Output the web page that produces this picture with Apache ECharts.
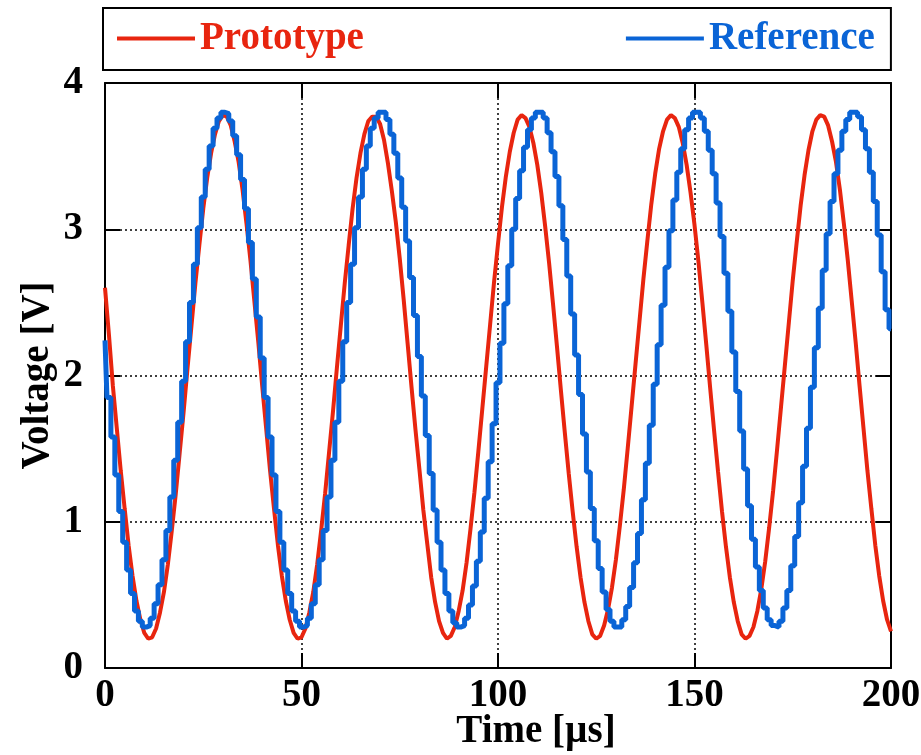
<!DOCTYPE html>
<html>
<head>
<meta charset="utf-8">
<script src="https://cdn.jsdelivr.net/npm/echarts@6/dist/echarts.min.js"></script>
<style>
html,body{margin:0;padding:0;background:#fff;}
#chart{width:921px;height:755px;}
</style>
</head>
<body>
<div id="chart"></div>
<script>
// Sample times (µs), one sample per microsecond
const timeUs = Array.from({length: 201}, (_, i) => i);

// Prototype (red) voltage readings [V], t = 0..200 µs
const prototypeV = [
  2.60,2.28,1.93,1.64,1.35,1.09,0.84,0.63,0.46,0.33,0.24,0.20,0.21,0.27,0.38,0.52,0.71,0.94,1.19,1.47,1.75,2.05,2.34,2.63,2.89,3.14,3.35,3.52,3.65,3.74,
  3.78,3.77,3.71,3.60,3.46,3.27,3.04,2.79,2.51,2.23,1.93,1.64,1.35,1.09,0.84,0.63,0.46,0.33,0.24,0.20,0.21,0.27,0.38,0.52,0.71,0.94,1.19,1.47,1.75,2.05,2.34,2.63,2.89,3.14,3.35,3.52,3.65,3.74,
  3.77,3.77,3.72,3.61,3.45,3.26,3.05,2.80,2.52,2.22,1.92,1.63,1.36,1.08,0.85,0.62,0.45,0.32,0.24,0.20,0.22,0.28,0.39,0.53,0.72,0.95,1.20,1.48,1.77,2.06,2.35,2.64,2.90,3.15,3.36,3.53,3.66,3.75,
  3.78,3.76,3.70,3.59,3.44,3.25,3.02,2.77,2.49,2.20,1.90,1.61,1.33,1.07,0.83,0.62,0.45,0.32,0.23,0.20,0.22,0.29,0.40,0.55,0.74,0.97,1.22,1.50,1.79,2.08,2.37,2.66,2.92,3.17,3.38,3.55,3.67,3.75,
  3.78,3.76,3.70,3.59,3.44,3.25,3.03,2.78,2.50,2.21,1.91,1.62,1.34,1.07,0.83,0.62,0.45,0.32,0.23,0.20,0.22,0.28,0.39,0.54,0.73,0.96,1.21,1.49,1.78,2.07,2.36,2.65,2.91,3.16,3.37,3.54,3.67,3.75,
  3.78,3.77,3.71,3.60,3.46,3.27,3.04,2.79,2.51,2.23,1.93,1.64,1.35,1.09,0.84,0.63,0.46,0.33,0.25
];

// Reference (blue) voltage readings [V], t = 0..200 µs
const referenceV = [
  2.24,1.85,1.58,1.32,1.07,0.86,0.67,0.51,0.39,0.32,0.28,0.29,0.34,0.44,0.57,0.74,0.94,1.17,1.42,1.68,1.96,2.23,2.50,2.76,3.01,3.22,3.41,3.57,3.69,3.76,
  3.80,3.79,3.74,3.64,3.51,3.34,3.14,2.91,2.66,2.40,2.12,1.85,1.58,1.32,1.07,0.86,0.67,0.51,0.39,0.32,0.28,0.29,0.34,0.44,0.57,0.74,0.94,1.17,1.42,1.68,1.96,2.23,2.50,2.76,3.01,3.22,3.41,3.57,3.69,3.76,
  3.80,3.80,3.75,3.65,3.52,3.35,3.15,2.92,2.67,2.41,2.13,1.86,1.59,1.33,1.08,0.86,0.67,0.51,0.39,0.31,0.28,0.29,0.34,0.43,0.56,0.73,0.93,1.16,1.41,1.67,1.95,2.22,2.49,2.75,3.00,3.21,3.40,3.56,3.68,3.76,
  3.80,3.80,3.76,3.66,3.53,3.36,3.16,2.93,2.68,2.42,2.14,1.87,1.60,1.34,1.09,0.87,0.68,0.52,0.40,0.32,0.28,0.28,0.33,0.42,0.55,0.72,0.92,1.15,1.40,1.66,1.94,2.21,2.48,2.74,2.99,3.20,3.39,3.55,3.68,3.76,
  3.80,3.80,3.76,3.67,3.54,3.38,3.18,2.95,2.70,2.44,2.16,1.89,1.62,1.36,1.11,0.88,0.69,0.53,0.41,0.33,0.29,0.28,0.32,0.41,0.53,0.70,0.90,1.13,1.38,1.64,1.92,2.19,2.46,2.72,2.97,3.19,3.38,3.54,3.67,3.75,
  3.80,3.80,3.77,3.68,3.55,3.39,3.19,2.96,2.71,2.45,2.32
];

const seriesNames = ['Prototype', 'Reference'];
const xTicks = {min: 0, max: 200, interval: 50};
const yTicks = {min: 0, max: 4, interval: 1};

const RED = '#e8250f';
const BLUE = '#0a64d6';
const FONT = '"Liberation Serif", "Times New Roman", serif';

const chart = echarts.init(document.getElementById('chart'), null, {renderer: 'canvas'});

const frameLine = {show: true, onZero: false, lineStyle: {color: '#000', width: 2}};
const tickIn = {show: true, inside: true, length: 15, lineStyle: {color: '#000', width: 2}};
const gridDots = {show: true, lineStyle: {type: [2, 3], color: '#000', width: 1.5}};
const labelStyle = {fontSize: 39, fontWeight: 'bold', color: '#000', fontFamily: FONT};

const option = {
  animation: false,
  backgroundColor: '#fff',
  textStyle: {fontFamily: FONT},
  legend: {
    left: 103, top: 8,
    padding: [11, 16, 12, 14],
    itemGap: 262,
    itemWidth: 78, itemHeight: 4,
    icon: 'rect',
    borderColor: '#000', borderWidth: 2,
    textStyle: {fontSize: 39, fontWeight: 'bold', fontFamily: FONT},
    data: [
      {name: seriesNames[0], textStyle: {color: RED}},
      {name: seriesNames[1], textStyle: {color: BLUE}}
    ]
  },
  grid: {left: 105, right: 30, top: 83, bottom: 87, containLabel: false, outerBoundsMode: 'none'},
  xAxis: [
    {
      type: 'value', min: xTicks.min, max: xTicks.max, interval: xTicks.interval, position: 'bottom',
      axisLine: frameLine, axisTick: tickIn,
      axisLabel: Object.assign({margin: 8, showMinLabel: true, showMaxLabel: true}, labelStyle),
      splitLine: gridDots,
      name: 'Time [µs]', nameLocation: 'middle', nameGap: 44, nameMoveOverlap: false,
      nameTextStyle: Object.assign({padding: [0, 0, 0, 76]}, labelStyle)
    },
    {
      type: 'value', min: xTicks.min, max: xTicks.max, interval: xTicks.interval, position: 'top',
      axisLine: frameLine, axisTick: tickIn, axisLabel: {show: false}, splitLine: {show: false}
    }
  ],
  yAxis: [
    {
      type: 'value', min: yTicks.min, max: yTicks.max, interval: yTicks.interval, position: 'left',
      axisLine: frameLine, axisTick: tickIn,
      axisLabel: Object.assign({margin: 22}, labelStyle),
      splitLine: gridDots,
      name: 'Voltage [V]', nameLocation: 'middle', nameGap: 48, nameMoveOverlap: false,
      nameTextStyle: labelStyle
    },
    {
      type: 'value', min: yTicks.min, max: yTicks.max, interval: yTicks.interval, position: 'right',
      axisLine: frameLine, axisTick: tickIn, axisLabel: {show: false}, splitLine: {show: false}
    }
  ],
  series: [
    {
      name: seriesNames[0], type: 'line', showSymbol: false, symbol: 'none',
      color: RED, lineStyle: {color: RED, width: 4},
      data: timeUs.map((t, i) => [t, prototypeV[i]]), z: 2
    },
    {
      name: seriesNames[1], type: 'line', step: 'middle', showSymbol: false, symbol: 'none',
      color: BLUE, lineStyle: {color: BLUE, width: 5},
      data: timeUs.map((t, i) => [t, referenceV[i]]), z: 3
    }
  ]
};
chart.setOption(option);
</script>
</body>
</html>
